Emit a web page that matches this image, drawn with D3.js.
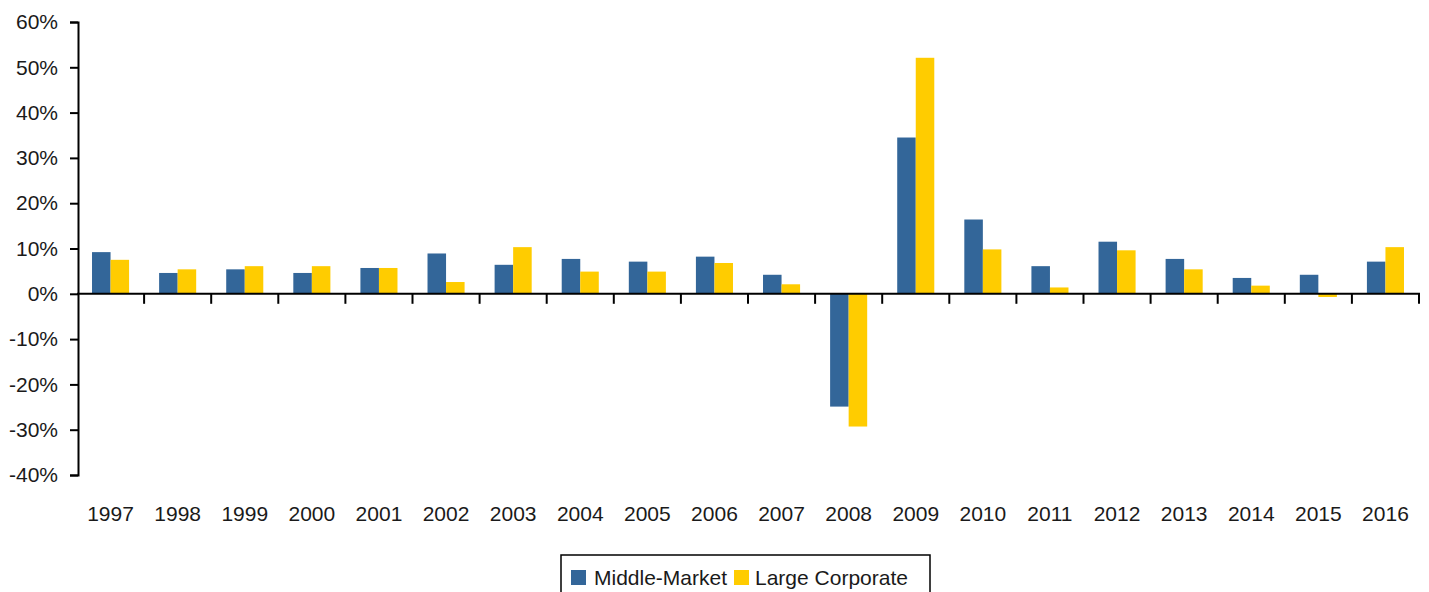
<!DOCTYPE html>
<html>
<head>
<meta charset="utf-8">
<script src="https://cdn.jsdelivr.net/npm/d3@7"></script>
<style>
  body { margin: 0; background: #fff; }
  text { font-family: "Liberation Sans", Arial, sans-serif; fill: #1a1a1a; }
</style>
</head>
<body>
<div id="chart"></div>
<script>
const years = ["1997","1998","1999","2000","2001","2002","2003","2004","2005","2006",
               "2007","2008","2009","2010","2011","2012","2013","2014","2015","2016"];
const seriesNames = ["Middle-Market", "Large Corporate"];
const middleMarket = [9.2, 4.6, 5.4, 4.6, 5.7, 8.9, 6.4, 7.7, 7.1, 8.2,
                      4.2, -24.9, 34.5, 16.4, 6.1, 11.5, 7.7, 3.5, 4.2, 7.1];
const largeCorporate = [7.5, 5.4, 6.1, 6.1, 5.7, 2.6, 10.3, 4.9, 4.9, 6.8,
                        2.1, -29.3, 52.1, 9.8, 1.4, 9.6, 5.4, 1.8, -0.7, 10.3];
const yTicks = [-40, -30, -20, -10, 0, 10, 20, 30, 40, 50, 60];
const colors = ["#336699", "#ffcc00"];

const width = 1429, height = 592;

const svg = d3.select("#chart").append("svg")
  .attr("width", width)
  .attr("height", height);

const x = d3.scaleBand().domain(years).range([77, 1419]).padding(0);
const x1 = d3.scaleBand().domain(seriesNames).range([0, x.bandwidth()])
  .paddingInner(0).paddingOuter(0.81);
const y = d3.scaleLinear().domain([-40, 60]).range([475, 22]);

const rows = years.map((yr, i) => ({
  year: yr,
  values: [
    { name: seriesNames[0], v: middleMarket[i] },
    { name: seriesNames[1], v: largeCorporate[i] }
  ]
}));

// bars
const groups = svg.append("g").selectAll("g")
  .data(rows)
  .join("g")
  .attr("transform", d => `translate(${x(d.year)},0)`);

groups.selectAll("rect")
  .data(d => d.values)
  .join("rect")
  .attr("x", d => x1(d.name))
  .attr("width", x1.bandwidth())
  .attr("y", d => y(Math.max(0, d.v)))
  .attr("height", d => Math.abs(y(d.v) - y(0)))
  .attr("fill", (d, i) => colors[i]);

// y axis
const yAxis = svg.append("g")
  .attr("transform", "translate(78,0)")
  .call(d3.axisLeft(y).tickValues(yTicks).tickSize(8).tickPadding(12)
    .tickFormat(d => d + "%"));
yAxis.select(".domain").attr("stroke", "#000").attr("stroke-width", 2);
yAxis.selectAll(".tick line").attr("stroke", "#000").attr("stroke-width", 2);
yAxis.selectAll("text").style("font-size", "21px").attr("fill", "#1a1a1a");

// zero line with ticks at category boundaries
svg.append("line")
  .attr("x1", 77).attr("x2", 1420)
  .attr("y1", y(0)).attr("y2", y(0))
  .attr("stroke", "#000").attr("stroke-width", 2);

svg.append("g").selectAll("line")
  .data(years.slice(1).concat(["end"]))
  .join("line")
  .attr("x1", d => d === "end" ? x.range()[1] : x(d))
  .attr("x2", d => d === "end" ? x.range()[1] : x(d))
  .attr("y1", y(0))
  .attr("y2", y(0) + 10)
  .attr("stroke", "#000").attr("stroke-width", 2);

// x labels at low position
const xAxis = svg.append("g")
  .attr("transform", `translate(0,${y(-40)})`)
  .call(d3.axisBottom(x).tickSize(0).tickPadding(31));
xAxis.select(".domain").remove();
xAxis.selectAll("text").style("font-size", "21px").attr("fill", "#1a1a1a");

// legend
const legend = svg.append("g");
legend.append("rect")
  .attr("x", 561).attr("y", 555)
  .attr("width", 369).attr("height", 50)
  .attr("fill", "none").attr("stroke", "#000").attr("stroke-width", 1.5);

const legendItems = [
  { name: seriesNames[0], color: colors[0], sx: 571, tx: 594 },
  { name: seriesNames[1], color: colors[1], sx: 734, tx: 755 }
];
legend.selectAll("g.item")
  .data(legendItems)
  .join("g")
  .attr("class", "item")
  .each(function(d) {
    const g = d3.select(this);
    g.append("rect")
      .attr("x", d.sx).attr("y", 570)
      .attr("width", 15).attr("height", 15)
      .attr("fill", d.color);
    g.append("text")
      .attr("x", d.tx).attr("y", 585)
      .style("font-size", "21px")
      .text(d.name);
  });
</script>
</body>
</html>
